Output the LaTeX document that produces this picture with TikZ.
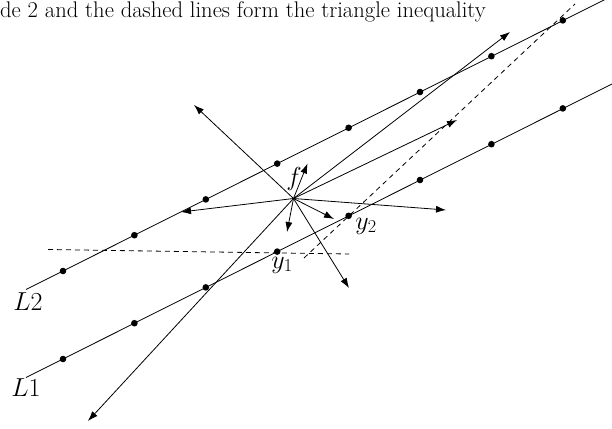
\RequirePackage{fix-cm}
\documentclass[tikz,border=0pt]{standalone}
\usetikzlibrary{arrows.meta}
\begin{document}
\begin{tikzpicture}[x=1pt,y=-1pt,
  dot/.style={circle,fill=black,inner sep=0pt,minimum size=6.6pt},
  ln/.style={line width=0.8pt},
  arr/.style={line width=0.8pt,-{Latex[length=10pt,width=7pt]}},
  dsh/.style={line width=0.8pt,dash pattern=on 5pt off 4pt},
  lbl/.style={inner sep=0pt,font=\fontsize{26}{30}\selectfont},
]
\useasboundingbox (0,0) rectangle (612,428);
\node[anchor=base west,inner sep=0pt,font=\fontsize{22.6}{27}\selectfont] (title) at (0,18) {de 2 and the dashed lines form the triangle inequality};

% the two lines L1, L2
\coordinate (L2s) at (26,289.5); \coordinate (L2e) at (612,-4);
\coordinate (L1s) at (26,377.5); \coordinate (L1e) at (612,84);
\draw[ln] (L2s) -- (L2e);
\draw[ln] (L1s) -- (L1e);
\foreach \i in {1,...,8} {
  \node[dot] (b\i) at ({63+71.4*(\i-1)},{271-35.8*(\i-1)}) {};
  \node[dot] (a\i) at ({63+71.4*(\i-1)},{359-35.8*(\i-1)}) {};
}

% dashed lines
\coordinate (d1s) at (48,249.5); \coordinate (d1e) at (349,254);
\draw[dsh] (d1s) -- (d1e);
\coordinate (d2s) at (304,258); \coordinate (d2e) at (575,4);
\draw[dsh] (d2s) -- (d2e);

% arrows from f
\coordinate (C) at (293.5,198.5);
\coordinate (t1) at (194,105);
\coordinate (tf) at (307.5,163.5);
\coordinate (t3) at (510,32);
\coordinate (t4) at (457,120);
\coordinate (t5) at (446,210);
\coordinate (t6) at (334,219);
\coordinate (t7) at (287,232);
\coordinate (t8) at (349,288);
\coordinate (t9) at (88,421);
\coordinate (t10) at (181,212);
\foreach \t in {t1,tf,t3,t4,t5,t6,t7,t8,t9,t10} { \draw[arr] (C) -- (\t); }

% labels
\node[lbl] (lf) at (294,179) {$f$};
\node[lbl] (ly1) at (282,265) {$y_1$};
\node[lbl] (ly2) at (366,226) {$y_2$};
\node[lbl] (lL2) at (28,302) {$L2$};
\node[lbl] (lL1) at (26,388) {$L1$};
\end{tikzpicture}
\end{document}
